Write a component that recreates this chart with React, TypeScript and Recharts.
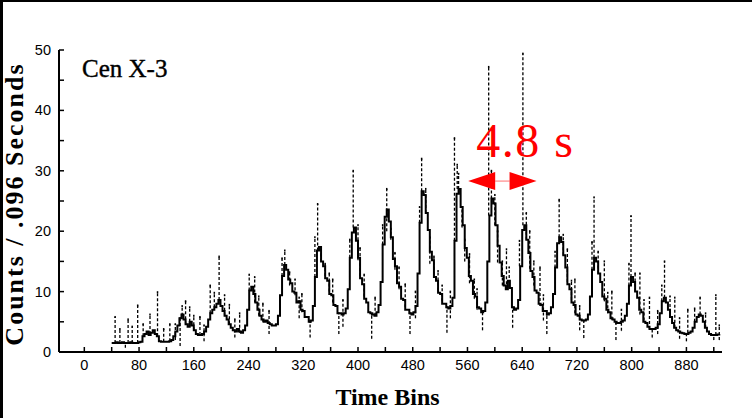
import { ComposedChart, Line, Scatter, ErrorBar, XAxis, YAxis, ReferenceLine } from 'recharts';

// time bins start at 40 and the light curve is sampled every 3 bins
const BIN_START = 40;
const BIN_STEP = 3;

const counts = [
  // 40-82
  1.5, 1.5, 1.6, 1.5, 1.5, 1.6, 1.5, 1.5, 1.5, 1.6, 1.5, 1.5, 1.5, 1.6, 1.7,
  // 85-106
  2.6, 3.0, 3.4, 2.8, 3.2, 3.6, 3.0, 2.6,
  // 109-127
  1.8, 1.7, 1.7, 1.7, 1.7, 1.8, 2.0,
  // 130-148
  2.6, 3.4, 4.4, 5.6, 6.2, 5.4, 4.6,
  // 151-163
  4.2, 5.0, 4.4, 3.6, 3.0,
  // 166-178
  2.8, 2.8, 3.0, 3.4, 4.2,
  // 181-199
  5.4, 6.4, 7.0, 7.4, 8.0, 8.6, 7.6,
  // 202-214
  6.8, 6.0, 5.4, 4.6, 4.0,
  // 217-235
  3.6, 3.4, 3.8, 3.4, 3.2, 3.6, 4.4,
  // 238-247
  7.0, 10.2, 10.8, 9.6,
  // 250-262
  8.2, 7.0, 6.0, 5.4, 5.0,
  // 265-280
  5.2, 4.8, 4.6, 4.4, 4.4, 4.6,
  // 283-295
  6.0, 9.4, 12.6, 14.4, 13.6,
  // 298-331
  12.0, 11.4, 10.0, 9.8, 8.2, 8.4, 7.0, 6.8, 5.8, 5.8, 5.0, 5.2,
  // 334-343
  7.6, 12.4, 16.8, 17.4,
  // 346-370
  15.0, 14.2, 12.2, 11.8, 9.6, 9.4, 7.8, 7.6, 6.4,
  // 373-382
  6.4, 6.2, 6.4, 7.2,
  // 385-394
  10.4, 15.6, 19.8, 20.6,
  // 397-415
  18.4, 15.6, 12.2, 11.2, 8.8, 8.2, 6.6,
  // 418-430
  6.4, 6.2, 6.0, 6.6, 7.8,
  // 433-442
  11.6, 17.8, 22.4, 23.6,
  // 445-472
  21.6, 19.0, 15.4, 14.2, 11.4, 10.8, 8.8, 8.6, 7.0, 7.0,
  // 475-484
  6.4, 6.2, 6.6, 7.6,
  // 487-496
  13.0, 21.4, 26.6, 26.0,
  // 499-526
  23.0, 20.2, 16.6, 15.2, 12.4, 11.8, 9.8, 9.6, 8.0, 8.0,
  // 529-538
  7.4, 7.2, 7.6, 9.0,
  // 541-547
  18.4, 26.2, 27.0,
  // 550-577
  24.0, 21.0, 17.2, 15.6, 12.6, 11.8, 9.6, 9.2, 7.4, 7.2,
  // 580-586
  6.6, 6.8, 8.2,
  // 589-598
  15.0, 22.6, 25.4, 24.6,
  // 601-622
  21.0, 17.6, 14.8, 12.6, 11.0, 10.4, 11.8, 10.6,
  // 625-628
  7.4, 7.0,
  // 631-643
  7.2, 8.6, 14.2, 20.2, 21.0,
  // 646-673
  18.6, 16.4, 13.4, 12.4, 10.2, 9.8, 8.0, 7.8, 6.8, 6.8,
  // 676-682
  6.2, 6.4, 7.4,
  // 685-697
  9.6, 14.0, 18.0, 19.0, 18.2,
  // 700-721
  16.0, 14.0, 11.2, 10.4, 8.2, 7.8, 6.2, 6.0,
  // 724-736
  5.4, 5.2, 5.2, 5.4, 6.2,
  // 739-748
  9.2, 13.6, 15.6, 15.0,
  // 751-769
  13.0, 11.6, 9.2, 8.8, 7.0, 6.6, 5.6,
  // 772-790
  5.4, 5.0, 4.8, 4.8, 5.0, 5.2, 6.0,
  // 793-802
  8.0, 11.0, 12.4, 11.6,
  // 805-820
  10.0, 9.0, 7.0, 6.6, 5.0, 4.8,
  // 823-838
  4.2, 3.8, 3.8, 3.8, 4.0, 4.6,
  // 841-850
  6.4, 8.4, 9.0, 8.2,
  // 853-871
  7.0, 5.8, 4.8, 4.0, 3.6, 3.4, 3.2,
  // 874-889
  3.1, 3.0, 3.0, 3.2, 3.4, 4.0,
  // 892-904
  5.0, 5.8, 6.2, 6.0, 5.0,
  // 907-928
  4.0, 3.4, 3.0, 2.8, 2.8, 2.8, 2.9, 3.0,
];

// single noisy bins, drawn as dashed strokes from low to high
const spikeBins = [
  45, 60, 64, 78, 86, 107, 125, 140, 143, 154, 169, 184, 197, 205, 227, 249, 261,
  293, 308, 318, 330, 341, 352, 363, 372, 393, 403, 420, 442, 454, 469, 476,
  493, 505, 517, 530, 541, 545, 556, 570, 582, 591, 604, 617, 626, 641, 651,
  666, 676, 694, 706, 717, 730, 745, 760, 771, 777, 799, 812, 826, 830, 848,
  863, 880, 882, 900, 920, 923,
  52, 70, 96, 116, 133, 148, 160, 175, 190, 212, 220, 241, 255, 270, 289, 300,
  314, 337, 346, 358, 378, 388, 400, 409, 425, 436, 448, 460, 484, 490, 499,
  511, 523, 535, 547, 552, 563, 574, 595, 600, 611, 621, 636, 646, 657, 671,
  688, 700, 712, 724, 742, 751, 765, 785, 796, 805, 818, 838, 844, 856, 870,
  892, 908, 928,
];
const spikeHigh = [
  5.8, 1.5, 5.4, 7.7, 4.6, 9.9, 4.6, 5.6, 7.6, 7.4, 5.8, 11.0, 15.8, 9.4, 6.4, 12.4, 8.0,
  16.8, 12.0, 9.6, 5.0, 24.5, 14.6, 12.0, 6.4, 30.0, 17.2, 6.2, 27.0, 16.4, 11.2, 6.4,
  32.0, 19.0, 13.4, 7.4, 35.4, 31.0, 18.6, 12.0, 6.8, 47.2, 20.0, 17.0, 7.4, 49.4, 20.0,
  14.0, 6.2, 25.2, 17.0, 12.0, 5.2, 25.6, 15.0, 10.0, 4.8, 22.5, 13.0, 9.0, 3.8, 15.0,
  9.0, 3.0, 7.0, 9.0, 2.8, 9.4,
  3.8, 4.2, 6.2, 3.8, 4.6, 8.4, 6.0, 4.4, 9.8, 7.8, 5.4, 12.8, 9.2, 6.8, 15.5, 13.2,
  9.0, 19.0, 17.0, 13.0, 8.6, 18.6, 21.0, 12.8, 9.0, 21.0, 20.4, 14.0, 10.0, 24.0, 27.0,
  15.8, 11.0, 10.0, 29.5, 24.0, 16.2, 10.4, 30.0, 26.0, 15.0, 14.0, 18.4, 23.0, 15.0, 9.4,
  16.6, 19.4, 11.8, 7.6, 18.2, 16.6, 9.8, 7.0, 14.6, 13.0, 8.6, 6.8, 11.0, 9.2, 5.6,
  7.2, 6.4, 4.4,
];
const spikeLow = [
  1.5, 0.7, 1.5, 1.5, 2.6, 2.6, 1.8, 1.0, 6.0, 5.0, 2.8, 6.4, 8.6, 6.0, 3.2, 8.2, 5.0,
  14.4, 9.4, 6.6, 2.4, 16.8, 12.6, 8.2, 3.0, 20.6, 12.6, 2.2, 20.0, 13.6, 7.4, 3.0,
  26.6, 14.6, 10.2, 3.2, 18.4, 27.0, 15.0, 8.8, 3.6, 22.6, 14.8, 10.4, 4.0, 21.0, 13.8,
  7.6, 3.0, 19.0, 11.6, 6.4, 2.3, 15.6, 8.4, 5.4, 2.0, 12.4, 6.2, 3.8, 2.4, 9.0,
  4.0, 1.8, 3.2, 6.2, 2.0, 2.8,
  1.5, 1.5, 3.0, 1.7, 2.0, 4.6, 3.6, 1.8, 7.4, 4.6, 2.4, 10.2, 6.0, 3.0, 12.6, 11.0,
  5.6, 12.4, 15.0, 10.0, 4.2, 15.6, 15.2, 9.2, 6.0, 17.8, 18.6, 10.4, 5.6, 21.4, 23.0,
  12.8, 8.4, 5.6, 27.0, 20.6, 11.4, 7.0, 25.4, 21.0, 11.0, 10.6, 14.2, 18.6, 11.0, 5.2,
  14.0, 16.0, 8.6, 3.6, 13.6, 13.0, 6.4, 3.5, 11.0, 10.0, 5.2, 3.0, 8.4, 5.8, 2.2,
  5.0, 4.0, 2.0,
];

const xTicks = [0, 40, 80, 120, 160, 200, 240, 280, 320, 360, 400, 440, 480, 520, 560, 600, 640, 680, 720, 760, 800, 840, 880, 920];
const xLabels = [0, 80, 160, 240, 320, 400, 480, 560, 640, 720, 800, 880];
const yTicks = [0, 5, 10, 15, 20, 25, 30, 35, 40, 45, 50];
const yLabels = [0, 10, 20, 30, 40, 50];

// the "4.8 s" period marker
const arrowFrom = 561;
const arrowTo = 661;
const arrowLevel = 28.3;

const lineData = counts.map((v, i) => ({ bin: BIN_START + i * BIN_STEP, v }));
const spikeData = spikeBins.map((bin, i) => ({
  bin,
  high: spikeHigh[i],
  err: [spikeHigh[i] - spikeLow[i], 0],
}));

const tickFont = { fontFamily: '"Liberation Sans", Arial, sans-serif', fontSize: 14.5, fill: '#000' };
const serif = '"Liberation Serif", "Times New Roman", serif';

function XTick(props: any) {
  const { x, y, payload } = props;
  const v = payload.value;
  return (
    <g>
      <line x1={x} x2={x} y1={y} y2={y - 5} stroke="#000" strokeWidth={1.5} />
      {xLabels.includes(v) && (
        <text x={x} y={y + 18} textAnchor="middle" {...tickFont}>
          {v}
        </text>
      )}
    </g>
  );
}

function YTick(props: any) {
  const { x, y, payload } = props;
  const v = payload.value;
  return (
    <g>
      <line x1={x} x2={x + 5} y1={y} y2={y} stroke="#000" strokeWidth={1.5} />
      {yLabels.includes(v) && (
        <text x={x - 8} y={y + 5} textAnchor="end" {...tickFont}>
          {v}
        </text>
      )}
    </g>
  );
}

function Arrow(props: any) {
  const { x1, y1, x2 } = props;
  const head = 27;
  const half = 9;
  return (
    <g>
      <line x1={x1 + head} x2={x2 - head} y1={y1} y2={y1} stroke="#ff7070" strokeWidth={1} />
      <polygon points={`${x1},${y1} ${x1 + head},${y1 - half} ${x1 + head},${y1 + half}`} fill="#ff0000" />
      <polygon points={`${x2},${y1} ${x2 - head},${y1 - half} ${x2 - head},${y1 + half}`} fill="#ff0000" />
      <text x={x1 + 8} y={y1 - 24} fill="#ff0000" fontFamily={serif} fontSize={48} letterSpacing={1.5}>
        4.8 s
      </text>
    </g>
  );
}

function SpikeDot(props: any) {
  const { cx, cy } = props;
  if (cx == null || cy == null) return null;
  return <rect x={cx - 0.75} y={cy - 1} width={1.5} height={2} fill="#000" />;
}

export default function App() {
  return (
    <div style={{ position: 'absolute', left: 0, top: 0, width: 752, height: 418, background: '#fff' }}>
      <ComposedChart width={752} height={418} margin={{ top: 50, right: 30, bottom: 30, left: 0 }}>
        <XAxis
          type="number"
          dataKey="bin"
          domain={[-37, 932]}
          ticks={xTicks}
          interval={0}
          allowDataOverflow
          height={36}
          axisLine={{ stroke: '#000', strokeWidth: 2 }}
          tickLine={false}
          tickSize={0}
          tickMargin={0}
          tick={<XTick />}
          label={{
            content: (p: any) => (
              <text
                x={p.viewBox.x + p.viewBox.width / 2 - 3}
                y={405}
                textAnchor="middle"
                fontFamily={serif}
                fontWeight="bold"
                fontSize={24}
                fill="#000"
              >
                Time Bins
              </text>
            ),
          }}
        />
        <YAxis
          type="number"
          domain={[0, 50]}
          ticks={yTicks}
          interval={0}
          allowDataOverflow
          width={59}
          axisLine={{ stroke: '#000', strokeWidth: 2 }}
          tickLine={false}
          tickSize={0}
          tickMargin={0}
          tick={<YTick />}
          label={{
            content: () => (
              <text
                x={23}
                y={204}
                transform="rotate(-90, 23, 204)"
                textAnchor="middle"
                fontFamily={serif}
                fontWeight="bold"
                fontSize={26}
                letterSpacing={2}
                fill="#000"
              >
                Counts / .096 Seconds
              </text>
            ),
          }}
        />
        <Line
          data={lineData}
          dataKey="v"
          type="stepAfter"
          stroke="#000"
          strokeWidth={2}
          dot={false}
          activeDot={false}
          isAnimationActive={false}
        />
        <Scatter data={spikeData} dataKey="high" shape={<SpikeDot />} isAnimationActive={false}>
          <ErrorBar
            dataKey="err"
            direction="y"
            width={0}
            stroke="#000"
            strokeWidth={1.3}
            strokeDasharray="3 2"
            isAnimationActive={false}
          />
        </Scatter>
        <ReferenceLine
          segment={[
            { x: arrowFrom, y: arrowLevel },
            { x: arrowTo, y: arrowLevel },
          ]}
          shape={<Arrow />}
        />
      </ComposedChart>
      <div
        style={{
          position: 'absolute',
          left: 82,
          top: 54,
          fontFamily: serif,
          fontSize: 25,
          lineHeight: '30px',
          color: '#000',
          whiteSpace: 'nowrap',
          WebkitTextStroke: '0.4px #000',
        }}
      >
        Cen X-3
      </div>
      <div style={{ position: 'absolute', left: 0, top: 0, width: 3, height: 418, background: '#000' }} />
      <div style={{ position: 'absolute', left: 0, top: 0, width: 752, height: 2, background: '#000' }} />
    </div>
  );
}
